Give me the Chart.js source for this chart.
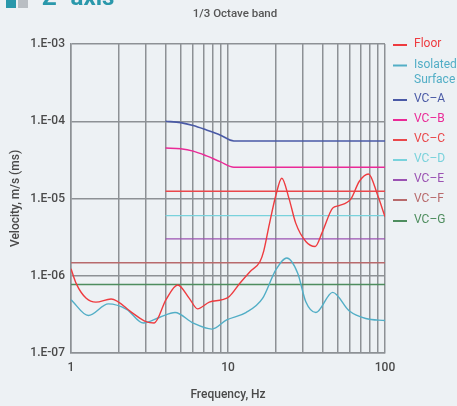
<!DOCTYPE html>
<html>
<head>
<meta charset="utf-8">
<script src="https://cdn.jsdelivr.net/npm/chart.js@4"></script>
<style>
  body { margin: 0; background: #edf1f4; overflow: hidden; }
  #wrap { position: relative; width: 457px; height: 406px; }
  #head { position: absolute; left: 6px; top: -17px; height: 24px; font: bold 24px Roboto, sans-serif; color: #2a98ab; white-space: nowrap; }
  #head .sq { display: inline-block; width: 10px; height: 10px; margin-right: 2px; vertical-align: -3px; }
  canvas { position: absolute; left: 0; top: 0; }
</style>
</head>
<body>
<div id="wrap">
  <canvas id="vibChart" width="457" height="406"></canvas>
  <div id="head"><span class="sq" style="background:#2a98ab"></span><span class="sq" style="background:#b9bec3"></span><span style="margin-left:12px">Z</span><span style="margin-left:14px">axis</span></div>
</div>
<script>
// frequency ticks (Hz) and velocity decades (m/s)
const freqTicks = [1, 2, 3, 4, 5, 6, 7, 8, 9, 10, 20, 30, 40, 50, 60, 70, 80, 90, 100]
const velTicks = [1e-7, 1e-6, 1e-5, 1e-4, 1e-3]

// measured curves
const floorFreq = [1, 1.08, 1.25, 1.44, 1.8, 2.47, 3.0, 3.39, 4.03, 4.78, 5.67, 6.4, 7.6, 9.2, 10.2, 11.9, 13.8, 16, 16.9, 18.3, 20.2, 22, 24.5, 27, 31.3, 35.9, 40, 46.4, 51, 60.7, 68.5, 78.5, 89.8, 100]
const floorVel = [1.23e-6, 7.9e-7, 5.1e-7, 4.55e-7, 5.0e-7, 3.28e-7, 2.55e-7, 2.45e-7, 4.9e-7, 7.6e-7, 5.1e-7, 3.73e-7, 4.55e-7, 4.9e-7, 5.4e-7, 8.0e-7, 1.13e-6, 1.53e-6, 2.1e-6, 4.56e-6, 1.11e-5, 1.83e-5, 9.9e-6, 4.8e-6, 2.78e-6, 2.39e-6, 3.73e-6, 7.5e-6, 8.1e-6, 9.9e-6, 1.66e-5, 2.08e-5, 1.1e-5, 5.8e-6]

const isoFreq = [1, 1.29, 1.73, 2.26, 2.89, 3.68, 4.6, 6.0, 7.9, 9.8, 13, 16.6, 20.2, 23.7, 27.8, 31.3, 36.3, 46.4, 59.3, 75.4, 100]
const isoVel = [4.9e-7, 3.06e-7, 4.33e-7, 3.68e-7, 2.44e-7, 2.9e-7, 3.34e-7, 2.44e-7, 2.04e-7, 2.68e-7, 3.34e-7, 5.1e-7, 1.2e-6, 1.7e-6, 1.08e-6, 4.6e-7, 3.34e-7, 6.1e-7, 3.5e-7, 2.8e-7, 2.63e-7]

// vibration criteria
const vcCurveFreq = [4, 5, 6, 7.3, 8.9, 10.9, 100]
const vcAVel = [1e-4, 9.6e-5, 8.8e-5, 7.7e-5, 6.65e-5, 5.56e-5, 5.56e-5]
const vcBVel = [4.5e-5, 4.4e-5, 4.1e-5, 3.56e-5, 3.0e-5, 2.54e-5, 2.54e-5]
const vcShortFreq = [4, 100]
const vcFullFreq = [1, 100]
const vcCVel = [1.24e-5, 1.24e-5]
const vcDVel = [6.0e-6, 6.0e-6]
const vcEVel = [3.0e-6, 3.0e-6]
const vcFVel = [1.47e-6, 1.47e-6]
const vcGVel = [7.7e-7, 7.7e-7]

function pts (fs, vs) {
  return fs.map((f, i) => ({ x: f, y: vs[i] }))
}

function series (label, fs, vs, color, width, smooth) {
  return {
    label: label,
    data: pts(fs, vs),
    borderColor: color,
    backgroundColor: color,
    borderWidth: width,
    pointRadius: 0,
    fill: false,
    cubicInterpolationMode: smooth ? 'monotone' : 'default'
  }
}

const datasets = [
  series('Floor', floorFreq, floorVel, '#ee3b3f', 1.4, true),
  series('Isolated\nSurface', isoFreq, isoVel, '#52aec6', 1.4, true),
  series('VC\u2013A', vcCurveFreq, vcAVel, '#4a5aa6', 1.6, true),
  series('VC\u2013B', vcCurveFreq, vcBVel, '#ea2a97', 1.4, true),
  series('VC\u2013C', vcShortFreq, vcCVel, '#ea474b', 1.4, false),
  series('VC\u2013D', vcShortFreq, vcDVel, '#79d2dc', 1.4, false),
  series('VC\u2013E', vcShortFreq, vcEVel, '#9b52b2', 1.4, false),
  series('VC\u2013F', vcFullFreq, vcFVel, '#b86a6c', 1.6, false),
  series('VC\u2013G', vcFullFreq, vcGVel, '#4e8d5e', 1.6, false)
]

const labelFont = '12px Roboto, sans-serif'
const gridColor = '#8d9195'
const axisFont = { family: 'Roboto', size: 12, weight: '500' }

// legend at right and the top caption
const sideLegend = {
  id: 'sideLegend',
  afterDraw (chart) {
    const c = chart.ctx
    const a = chart.chartArea
    const rows = [45, 65.5, 100, 120, 140, 160, 180, 200, 221]
    c.save()
    c.font = labelFont
    c.textBaseline = 'middle'
    chart.data.datasets.forEach((ds, i) => {
      const y = rows[i]
      c.strokeStyle = ds.borderColor
      c.lineWidth = 2
      c.beginPath()
      c.moveTo(a.right + 8, y)
      c.lineTo(a.right + 22, y)
      c.stroke()
      c.fillStyle = ds.borderColor
      ds.label.split('\n').forEach((t, j) => {
        c.fillText(t, a.right + 29, y - 1 + j * 15)
      })
    })
    c.fillStyle = '#555'
    c.font = '500 11.5px Roboto, sans-serif'
    c.textAlign = 'center'
    c.fillText('1/3 Octave band', 235, 14)
    c.restore()
  }
}

new Chart(document.getElementById('vibChart').getContext('2d'), {
  type: 'line',
  data: { datasets: datasets },
  options: {
    responsive: false,
    animation: false,
    layout: { padding: { top: 44, right: 72, left: 0, bottom: 0 } },
    plugins: {
      legend: { display: false },
      title: { display: false },
      tooltip: { enabled: false }
    },
    scales: {
      x: {
        type: 'logarithmic',
        min: 1,
        max: 100,
        afterFit: s => { s.height = 53 },
        afterBuildTicks: s => { s.ticks = freqTicks.map(v => ({ value: v })) },
        ticks: {
          autoSkip: false,
          maxRotation: 0,
          padding: 8,
          color: '#4a4a4a',
          font: axisFont,
          callback: v => ([1, 10, 100].includes(v) ? String(v) : '')
        },
        grid: { color: gridColor, lineWidth: 1.5, drawTicks: false },
        border: { color: gridColor, width: 1.5 },
        title: {
          display: true,
          text: 'Frequency, Hz',
          color: '#4a4a4a',
          font: axisFont,
          padding: { top: 10 }
        }
      },
      y: {
        type: 'logarithmic',
        min: 1e-7,
        max: 1e-3,
        afterFit: s => { s.width = 71 },
        afterBuildTicks: s => { s.ticks = velTicks.map(v => ({ value: v })) },
        ticks: {
          padding: 6,
          color: '#4a4a4a',
          font: axisFont,
          callback: v => '1.E-' + String(Math.round(-Math.log10(v))).padStart(2, '0')
        },
        grid: { color: gridColor, lineWidth: 1.5, drawTicks: false },
        border: { color: gridColor, width: 1.5 },
        title: {
          display: true,
          text: 'Velocity, m/s (ms)',
          color: '#4a4a4a',
          font: axisFont,
          padding: { top: 9, bottom: 0 }
        }
      }
    }
  },
  plugins: [sideLegend]
})
</script>
</body>
</html>
